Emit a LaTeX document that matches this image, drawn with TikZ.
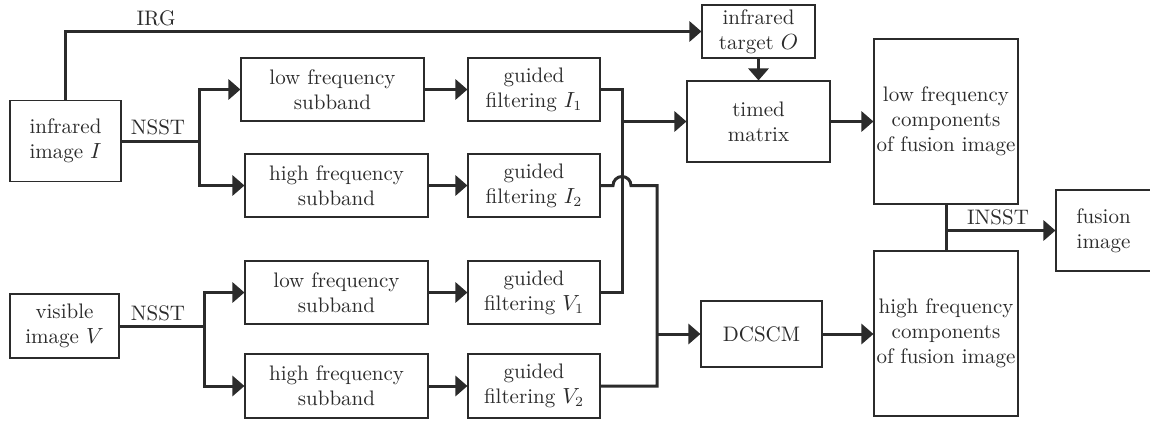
\documentclass[tikz,border=0pt]{standalone}
\usetikzlibrary{arrows.meta}
\definecolor{inkgray}{HTML}{2B2B2B}
\begin{document}
\begin{tikzpicture}[x=0.5pt,y=-0.5pt,
    blk/.style={draw=inkgray,line width=0.55pt,rectangle,align=center,inner sep=0pt,
      text=inkgray,font=\fontsize{10.5}{12.5}\selectfont},
    wire/.style={draw=inkgray,line width=1.5pt},
    conn/.style={wire,-{Triangle[length=6pt,width=10pt]}},
    lbl/.style={text=inkgray,font=\fontsize{10.5}{12.5}\selectfont}]
  \useasboundingbox (0,0) rectangle (1150,423);
  % infrared branch
  \node [blk,minimum width=55.5pt,minimum height=40.5pt] (irimg) at (65.5,141) {infrared\\image $I$};
  \node [blk,minimum width=91.5pt,minimum height=31.5pt] (lowI) at (332.5,89.5) {low frequency\\subband};
  \node [blk,minimum width=91.5pt,minimum height=31.5pt] (highI) at (336.5,185.5) {high frequency\\subband};
  \node [blk,minimum width=66pt,minimum height=31.5pt] (gfI1) at (534,89.5) {guided\\filtering $I_1$};
  \node [blk,minimum width=66pt,minimum height=31.5pt] (gfI2) at (534,185.5) {guided\\filtering $I_2$};
  % visible branch
  \node [blk,minimum width=54.5pt,minimum height=32pt] (visimg) at (64.5,326) {visible\\image $V$};
  \node [blk,minimum width=91.5pt,minimum height=31.5pt] (lowV) at (336.5,292.5) {low frequency\\subband};
  \node [blk,minimum width=91.5pt,minimum height=32pt] (highV) at (336.5,386) {high frequency\\subband};
  \node [blk,minimum width=66pt,minimum height=31.5pt] (gfV1) at (534,292.5) {guided\\filtering $V_1$};
  \node [blk,minimum width=66pt,minimum height=32pt] (gfV2) at (534,386) {guided\\filtering $V_2$};
  % fusion part
  \node [blk,minimum width=56.5pt,minimum height=26.5pt] (target) at (758.5,31.5) {infrared\\target $O$};
  \node [blk,minimum width=71.5pt,minimum height=40.5pt] (timed) at (758.5,121.5) {timed\\matrix};
  \node [blk,minimum width=60.5pt,minimum height=33pt] (dcscm) at (761.5,334) {DCSCM};
  \node [blk,minimum width=72pt,minimum height=82.5pt] (lowC) at (946,121.5) {low frequency\\components\\of fusion image};
  \node [blk,minimum width=72pt,minimum height=82.5pt] (highC) at (946,333.5) {high frequency\\components\\of fusion image};
  \node [blk,minimum width=47.5pt,minimum height=40.5pt] (fusion) at (1103.5,230.5) {fusion\\image};
  % junctions
  \coordinate (splitI) at (199,141);
  \coordinate (splitV) at (204,326);
  \coordinate (busA) at (622,121.5);
  \coordinate (busB) at (657,334);
  \coordinate (outJ) at (946,230.5);
  % connectors
  \draw [conn] (irimg.north) |- (target.west);
  \node [lbl] (irg) at (156,18) {IRG};
  \draw [wire] (irimg.east) -- (splitI);
  \draw [conn] (splitI) |- (lowI.west);
  \draw [conn] (splitI) |- (highI.west);
  \node [lbl] (nsstI) at (158,127) {NSST};
  \draw [wire] (visimg.east) -- (splitV);
  \draw [conn] (splitV) |- (lowV.west);
  \draw [conn] (splitV) |- (highV.west);
  \node [lbl] (nsstV) at (158,313) {NSST};
  \draw [conn] (lowI) -- (gfI1);
  \draw [conn] (highI) -- (gfI2);
  \draw [conn] (lowV) -- (gfV1);
  \draw [conn] (highV) -- (gfV2);
  \draw [wire] (gfI1.east) -| (busA) |- (gfV1.east);
  \draw [conn] (busA) -- (timed.west);
  \draw [wire] (gfI2.east) -- ([xshift=-4.5pt]gfI2.east -| busA)
    arc [start angle=180,end angle=0,radius=4.5pt] -| (busB) |- (gfV2.east);
  \draw [conn] (busB) -- (dcscm.west);
  \draw [conn] (target) -- (timed);
  \draw [conn] (timed) -- (lowC);
  \draw [conn] (dcscm) -- (dcscm.east -| highC.west);
  \draw [wire] (lowC) -- (highC);
  \draw [conn] (outJ) -- (fusion.west);
  \node [lbl] (insst) at (998,217) {INSST};
\end{tikzpicture}
\end{document}
